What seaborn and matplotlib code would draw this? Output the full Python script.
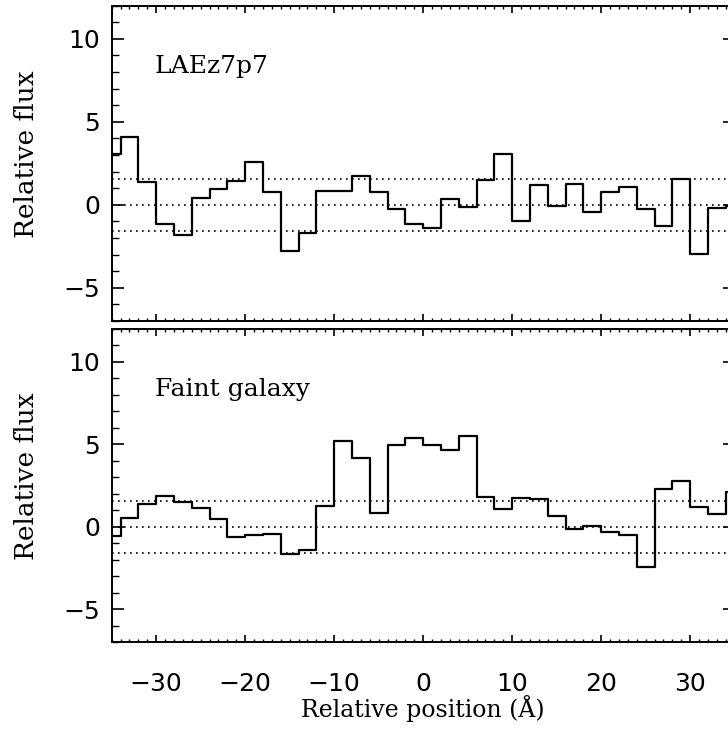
import numpy as np
import matplotlib
matplotlib.use('Agg')
import matplotlib.pyplot as plt
from matplotlib.ticker import MultipleLocator
import seaborn as sns

# bin centres (2 A bins), relative position in Angstrom
centers = np.arange(-35, 36, 2)

# LAEz7p7 spectrum around the expected line position
lae_flux = [3.07, 4.07, 1.35, -1.15, -1.83, 0.40, 0.97, 1.41, 2.58, 0.77,
            -2.76, -1.67, 0.85, 0.81, 1.73, 0.77, -0.26, -1.17,
            -1.37, 0.36, -0.10, 1.49, 3.07, -0.95, 1.19, -0.08, 1.27,
            -0.46, 0.77, 1.05, -0.28, -1.29, 1.57, -2.94, -0.18, -0.04]

# faint galaxy spectrum
faint_flux = [-0.57, 0.57, 1.41, 1.89, 1.53, 1.17, 0.46, -0.63, -0.48, -0.42,
              -1.65, -1.39, 1.27, 5.22, 4.21, 0.87, 4.98, 5.42,
              4.96, 4.68, 5.54, 1.83, 1.07, 1.75, 1.72, 0.66, -0.14,
              0.08, -0.32, -0.50, -2.40, 2.28, 2.76, 1.19, 0.80, 2.13]

# zero level and +/- 1 sigma noise
noise_levels = [-1.55, 0.0, 1.55]

panel_names = ['LAEz7p7', 'Faint galaxy']

sns.set_style('ticks')
plt.rcParams['font.family'] = ['DejaVu Serif', 'DejaVu Sans']
plt.rcParams['axes.linewidth'] = 1.4
plt.rcParams['text.color'] = 'black'
plt.rcParams['axes.labelcolor'] = 'black'
plt.rcParams['xtick.color'] = 'black'
plt.rcParams['ytick.color'] = 'black'

fig = plt.figure(figsize=(7.28, 7.49), dpi=100)
ax1 = fig.add_axes([0.1534, 0.5714, 0.8558, 0.421])
ax2 = fig.add_axes([0.1534, 0.1422, 0.8558, 0.4186])

for ax, flux, name in zip([ax1, ax2], [lae_flux, faint_flux], panel_names):
    for lev in noise_levels:
        ax.axhline(lev, color='black', lw=1.2, ls=(0, (1, 2.6)))
    sns.lineplot(x=centers, y=flux, drawstyle='steps-mid', color='black',
                 lw=1.6, errorbar=None, ax=ax)

    ax.set_xlim(-35, 35)
    ax.set_ylim(-7, 12)
    ax.set_xticks(range(-30, 31, 10))
    ax.set_yticks([-5, 0, 5, 10])
    ax.xaxis.set_minor_locator(MultipleLocator(1))
    ax.yaxis.set_minor_locator(MultipleLocator(1))
    ax.tick_params(which='both', direction='in', top=True, right=True, color='black')
    ax.tick_params(axis='x', which='major', length=4.8, width=1.2, pad=21,
                   labelsize=18, labelfontfamily='DejaVu Sans')
    ax.tick_params(axis='x', which='minor', length=2.4, width=1.0)
    ax.tick_params(axis='y', which='major', length=8.9, width=1.2, pad=8.4,
                   labelsize=18, labelfontfamily='DejaVu Sans')
    ax.tick_params(axis='y', which='minor', length=4.8, width=1.0)
    for sp in ax.spines.values():
        sp.set_visible(True)
        sp.set_color('black')

    ax.set_ylabel('Relative flux', fontsize=19)
    ax.yaxis.set_label_coords(-0.1165, 0.53)
    ax.text(0.069, 0.787, name, transform=ax.transAxes, fontsize=18,
            va='baseline', ha='left')

ax1.tick_params(axis='x', labelbottom=False)
ax1.set_xlabel('')
ax2.set_xlabel('Relative position (Å)', fontsize=17, va='baseline')
ax2.xaxis.set_label_coords(0.5, -0.237)

plt.savefig('out.png', dpi=100)
